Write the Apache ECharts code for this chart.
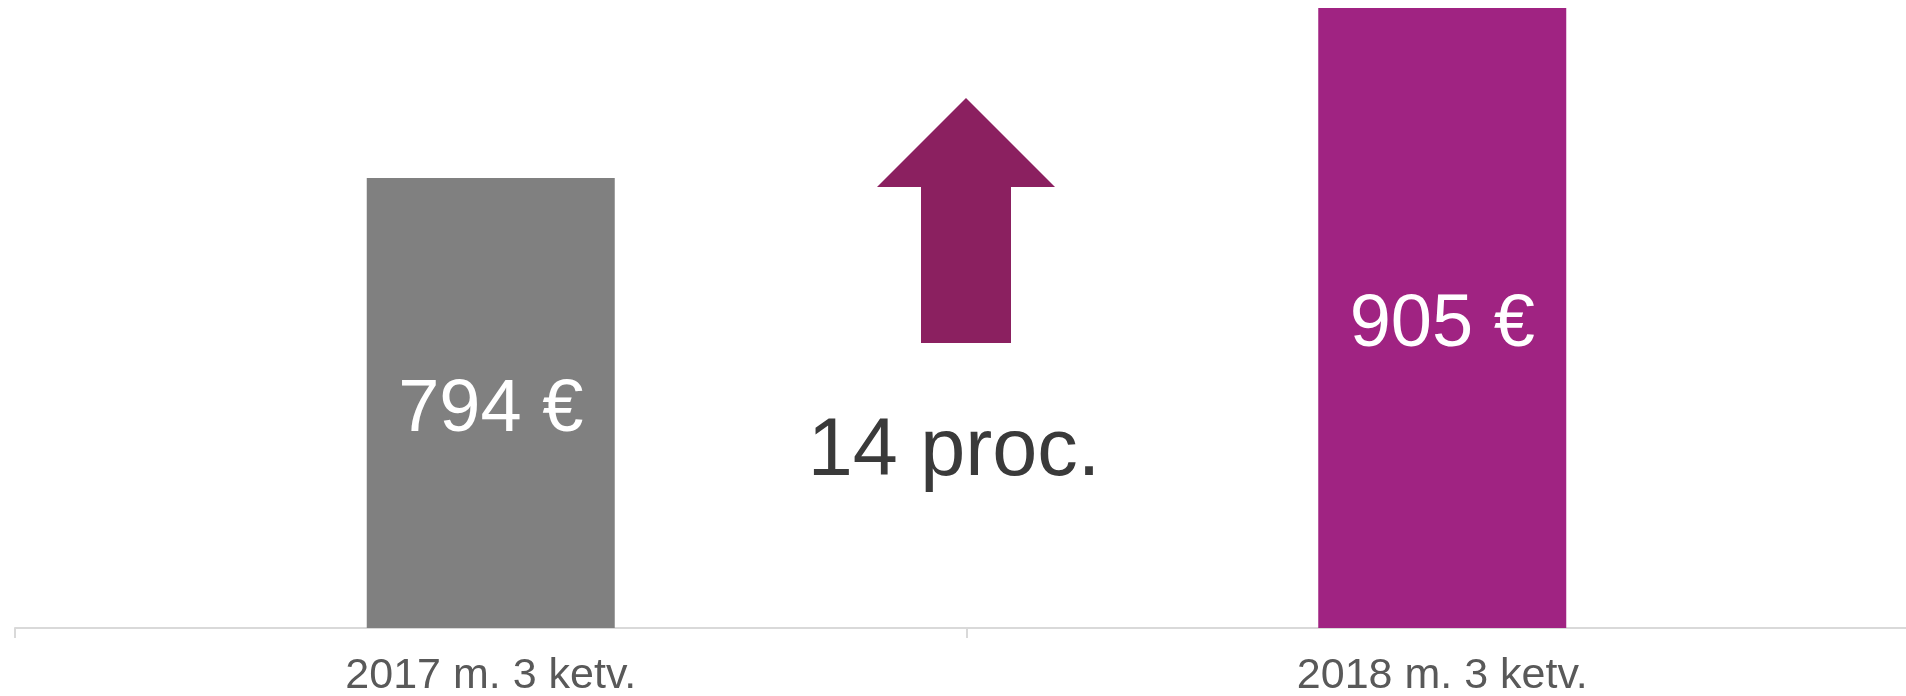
<!DOCTYPE html>
<html>
<head>
<meta charset="utf-8">
<script src="https://cdn.jsdelivr.net/npm/echarts@6/dist/echarts.min.js"></script>
<style>
  html, body { margin: 0; padding: 0; background: #fff; }
  #chart { width: 1906px; height: 696px; }
</style>
</head>
<body>
<div id="chart"></div>
<script>
const categories = ["2017 m. 3 ketv.", "2018 m. 3 ketv."];
const values = [794, 905];
const barColors = ["#808080", "#a02382"];
const arrowColor = "#8b2060";
const FONT = "'Liberation Sans', Arial, sans-serif";

const growth = Math.round((values[1] - values[0]) / values[0] * 100);

const chart = echarts.init(document.getElementById("chart"));

chart.setOption({
	animation: false,
	textStyle: { fontFamily: FONT },
	grid: { left: 15, right: -12, top: 8, bottom: 68, containLabel: false, outerBoundsMode: "none" },
	xAxis: {
		type: "category",
		data: categories,
		axisLine: { lineStyle: { color: "#d9d9d9", width: 2 } },
		axisTick: { show: true, length: 10, lineStyle: { color: "#d9d9d9", width: 2 } },
		axisLabel: { color: "#595959", fontSize: 43, fontFamily: FONT, margin: 27 },
	},
	yAxis: {
		type: "value",
		min: 500,
		max: 905,
		show: false,
		splitLine: { show: false },
	},
	series: [
		{
			type: "bar",
			barWidth: 248,
			data: values.map((v, i) => ({ value: v, itemStyle: { color: barColors[i] } })),
			label: {
				show: true,
				position: "inside",
				offset: [0, 8],
				color: "#fff",
				fontSize: 74,
				fontFamily: FONT,
				formatter: (p) => p.value + " €",
			},
		},
	],
	graphic: [
		{
			type: "polygon",
			shape: {
				points: [
					[966, 98], [1055, 187], [1011, 187], [1011, 343],
					[921, 343], [921, 187], [877, 187],
				],
			},
			style: { fill: arrowColor },
		},
		{
			type: "text",
			x: 954,
			y: 453,
			style: {
				text: growth + " proc.",
				fill: "#3a3a3a",
				fontSize: 81,
				fontFamily: FONT,
				align: "center",
				verticalAlign: "middle",
			},
		},
	],
});
</script>
</body>
</html>
